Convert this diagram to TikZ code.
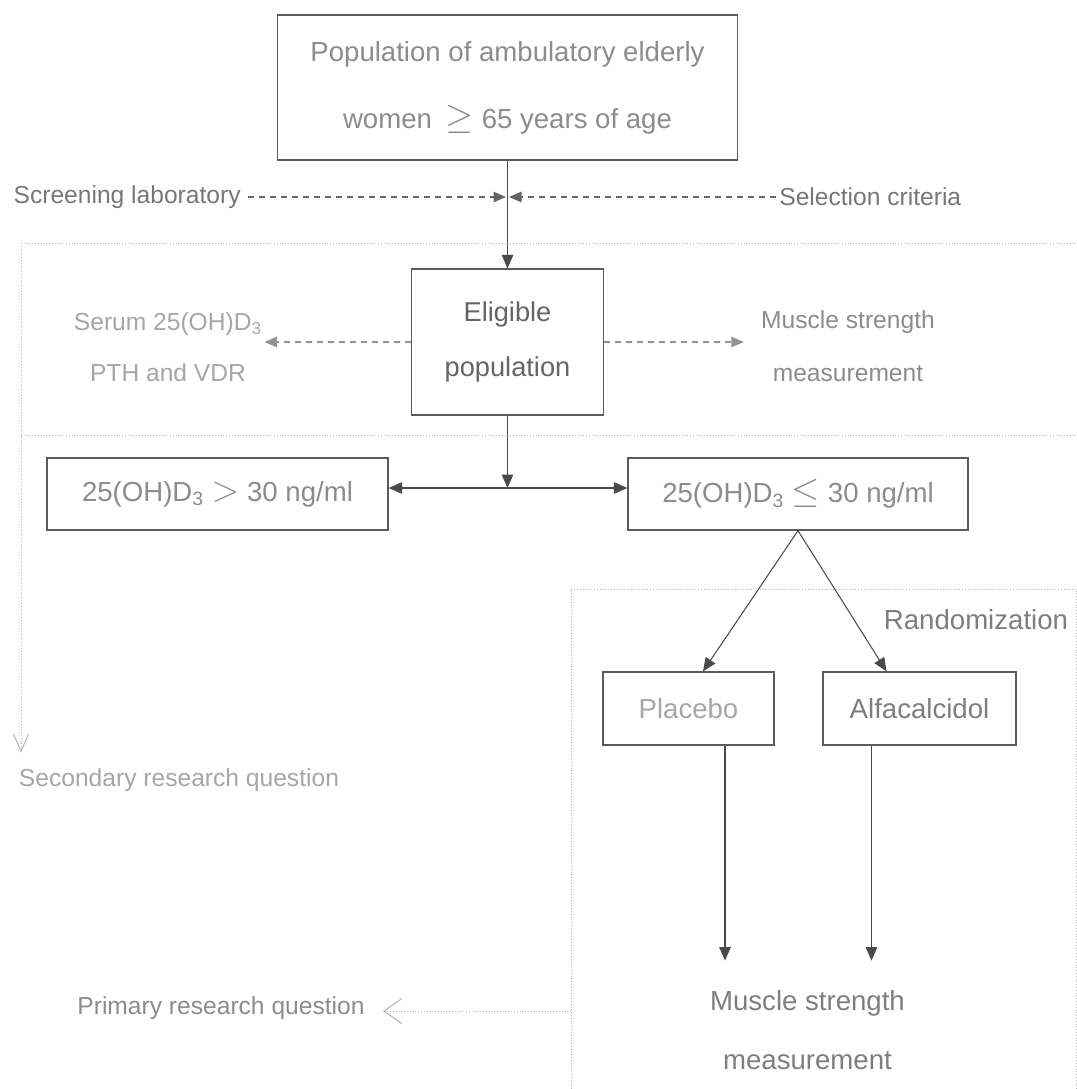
\documentclass[tikz,border=0pt]{standalone}
\usepackage{fontspec}
\setmainfont{Liberation Sans}
\usepackage{tikz}
\usetikzlibrary{positioning,arrows.meta}

\definecolor{linegray}{HTML}{4A4A4A}
\definecolor{boxgray}{HTML}{5C5C5C}
\definecolor{txtgray}{HTML}{8C8C8C}
\definecolor{lightgray}{HTML}{A6A6A6}
\definecolor{dotgray}{HTML}{B4B4B4}

\newcommand{\bigrel}[1]{{\fontsize{21}{21}\selectfont$#1$}}

\begin{document}
\begin{tikzpicture}[
  box/.style={
    rectangle, draw=boxgray, line width=0.7pt, inner sep=0pt,
    text=txtgray, align=center, font=\fontsize{15.7}{20}\selectfont
  },
  note/.style={inner sep=0pt, align=center, text=txtgray, font=\fontsize{14}{18}\selectfont},
  arrow/.style={-{Triangle[length=0.27cm, width=0.23cm]}, line width=0.6pt, linegray},
  dasharrow/.style={-{Triangle[length=0.25cm, width=0.21cm]}, line width=0.6pt,
    dash pattern=on 0.12cm off 0.1cm},
  region/.style={draw=dotgray, line width=0.5pt, dash pattern=on 0.5pt off 1.1pt},
  openarrow/.style={region, -{Straight Barb[length=0.36cm, width=0.5cm, line width=0.6pt]}}
]
\useasboundingbox (0,0) rectangle (21.54,-21.78);

% === Main boxes ===
\node[box, minimum width=9.2cm, minimum height=2.9cm, font=\fontsize{15.7}{38}\selectfont]
  (pop) at (10.15,-1.75) {Population of ambulatory elderly\\women\enspace\bigrel{\geq} 65 years of age};
\node[box, minimum width=3.84cm, minimum height=2.92cm, text=linegray!85,
  font=\fontsize{15.5}{31}\selectfont] (eli) at (10.15,-6.84) {Eligible\\population};

\node[box, minimum width=6.82cm, minimum height=1.44cm] (hi) at (4.35,-9.88)
  {25(OH)D\textsubscript{3} \bigrel{>} 30 ng/ml};
\node[box, minimum width=6.8cm, minimum height=1.44cm] (lo) at (15.96,-9.88)
  {25(OH)D\textsubscript{3} \bigrel{\leq} 30 ng/ml};

\node[box, minimum width=3.42cm, minimum height=1.46cm, text=lightgray] (plac) at (13.77,-14.17) {Placebo};
\node[box, minimum width=3.86cm, minimum height=1.46cm, text=txtgray!90!black] (alfa) at (18.39,-14.17) {Alfacalcidol};

% === Side labels ===
\node[note, anchor=east, text=txtgray!85!black] (screen) at (4.82,-3.94) {Screening laboratory};
\node[note, anchor=west, text=txtgray!85!black] (select) at (15.58,-3.94) {Selection criteria};
\coordinate (cross) at (10.15,-3.94);

\node[note, text=lightgray, font=\fontsize{14}{29}\selectfont] (serum) at (3.36,-6.95)
  {Serum 25(OH)D\textsubscript{3}\\PTH and VDR};
\node[note, font=\fontsize{14}{30}\selectfont] (musc) at (16.96,-6.92)
  {Muscle strength\\measurement};

\node[note, font=\fontsize{15.7}{20}\selectfont, text=txtgray!90!black] (rand) at (19.52,-12.4) {Randomization};
\node[note, font=\fontsize{15.7}{34}\selectfont, text=txtgray!90!black] (meas) at (16.15,-20.6)
  {Muscle strength\\measurement};

\node[note, text=lightgray] (sec) at (3.58,-15.6) {Secondary research question};
\node[note] (prim) at (4.42,-20.16) {Primary research question};

% === Main flow arrows ===
\draw[arrow] (pop.south) -- (eli.north);
\draw[dasharrow, linegray!85, shorten <=0.14cm, shorten >=0.03cm] (screen.east) -- (cross);
\draw[dasharrow, linegray!85, shorten <=0.06cm, shorten >=0.03cm] (select.west) -- (cross);

\draw[dasharrow, gray!85, shorten >=0.04cm] (eli.west) -- (eli.west -| serum.east);
\draw[dasharrow, gray!85, shorten >=0.34cm] (eli.east) -- (eli.east -| musc.west);

\coordinate (split) at (10.15,-9.76);
\draw[arrow] (eli.south) -- (split);
\draw[arrow] (split) -- (split -| hi.east);
\draw[arrow] (split) -- (split -| lo.west);

% === Randomization ===
\draw[arrow] (lo.south) -- ([xshift=0.29cm]plac.north);
\draw[arrow] (lo.south) -- ([xshift=-0.66cm]alfa.north);
\draw[arrow] ([xshift=0.73cm]plac.south) -- ++(0,-4.3);
\draw[arrow] ([xshift=-0.96cm]alfa.south) -- ++(0,-4.3);

% === Dotted regions ===
\draw[region] (0.42,-4.86) -- (21.54,-4.86);
\draw[region] (0.42,-8.7) -- (21.54,-8.7);
\draw[openarrow, -{Straight Barb[length=0.34cm, width=0.3cm, line width=0.6pt]}]
  (0.42,-4.86) -- (0.42,-15.05);

\draw[region] (11.42,-21.78) -- (11.42,-11.78) -- (21.52,-11.78) -- (21.52,-21.78);
\coordinate (pq) at (11.42,-20.22);
\draw[openarrow, shorten >=0.36cm] (pq) -- (pq -| prim.east);

\end{tikzpicture}
\end{document}
